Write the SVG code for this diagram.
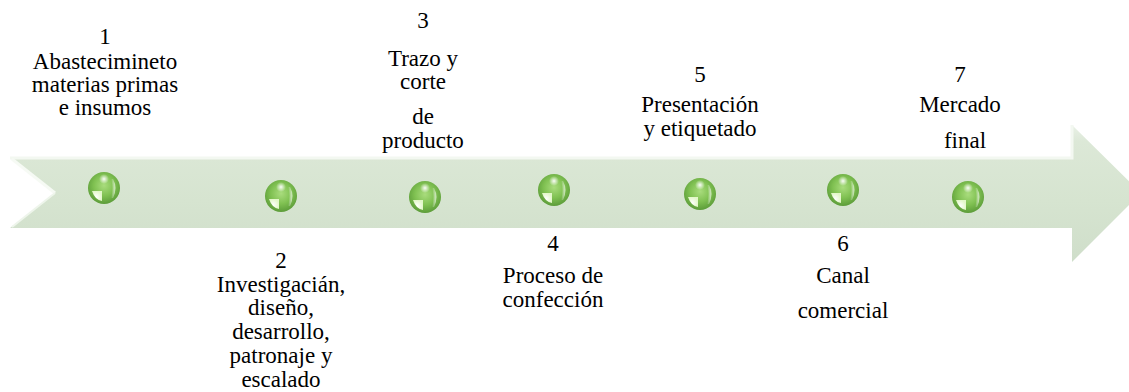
<svg xmlns="http://www.w3.org/2000/svg" width="1129" height="392" viewBox="0 0 1129 392">
  <defs>
    <linearGradient id="arrowFill" x1="0" y1="0" x2="0" y2="1">
      <stop offset="0" stop-color="#e9f1e6"/>
      <stop offset="0.12" stop-color="#dce8d7"/>
      <stop offset="0.55" stop-color="#d6e4d0"/>
      <stop offset="1" stop-color="#cfdeca"/>
    </linearGradient>
    <radialGradient id="ballFill" cx="0.5" cy="0.42" r="0.58">
      <stop offset="0" stop-color="#a9dc7d"/>
      <stop offset="0.55" stop-color="#80c152"/>
      <stop offset="1" stop-color="#5c9c39"/>
    </radialGradient>
    <radialGradient id="topGlow" cx="0.5" cy="0.5" r="0.5">
      <stop offset="0" stop-color="#ffffff" stop-opacity="0.95"/>
      <stop offset="1" stop-color="#ffffff" stop-opacity="0"/>
    </radialGradient>
    <linearGradient id="sideGlow" x1="0" y1="0" x2="1" y2="0">
      <stop offset="0" stop-color="#ffffff" stop-opacity="0"/>
      <stop offset="1" stop-color="#ffffff" stop-opacity="0.7"/>
    </linearGradient>
    <radialGradient id="lowGlow" cx="0.4" cy="0.6" r="0.6">
      <stop offset="0" stop-color="#ffffff"/>
      <stop offset="1" stop-color="#e2f7c8"/>
    </radialGradient>
    <g id="ball">
      <circle r="16" fill="url(#ballFill)"/>
      <ellipse cx="0" cy="-9" rx="5" ry="5" fill="url(#topGlow)"/>
      <path d="M9,-9 Q14,0 9,10 L7,10 Q10,0 7,-9 Z" fill="url(#sideGlow)"/>
      <path d="M-12,3 L-2,3 L-2,13 Q-9,12 -12,3 Z" fill="url(#lowGlow)"/>
    </g>
  </defs>
  <style>
    text { font-family: 'Liberation Serif', 'Times New Roman', 'DejaVu Serif', serif; font-size: 23px; fill: #000000; text-anchor: middle; }
  </style>

  <g id="timeline-arrow">
    <path d="M10,158 L1072,158 L1072,125 L1141,193 L1072,262 L1072,228 L10,228 L55,193 Z" fill="url(#arrowFill)"/>
    <path d="M10,158 L1072,158 L1072,125" fill="none" stroke="#f3f8f1" stroke-width="3"/>
    <path d="M12,159 L55,193" fill="none" stroke="#f6faf4" stroke-width="3"/>
    <path d="M12,227 L55,193" fill="none" stroke="#eef5eb" stroke-width="2"/>
  </g>

  <g id="connectors"></g>

  <g id="node1">
    <use href="#ball" x="104" y="188"/>
    <text x="105" y="44">1</text>
    <text x="105" y="69">Abastecimineto</text>
    <text x="105" y="92">materias primas</text>
    <text x="105" y="115">e insumos</text>
  </g>

  <g id="node2">
    <use href="#ball" x="281" y="196"/>
    <text x="281" y="268">2</text>
    <text x="281" y="292">Investigacián,</text>
    <text x="281" y="315">diseño,</text>
    <text x="281" y="339">desarrollo,</text>
    <text x="281" y="363">patronaje y</text>
    <text x="281" y="387">escalado</text>
  </g>

  <g id="node3">
    <use href="#ball" x="425" y="197"/>
    <text x="423" y="28">3</text>
    <text x="423" y="66">Trazo y</text>
    <text x="423" y="89">corte</text>
    <text x="423" y="124">de</text>
    <text x="423" y="148">producto</text>
  </g>

  <g id="node4">
    <use href="#ball" x="554" y="190"/>
    <text x="553" y="251">4</text>
    <text x="553" y="283">Proceso de</text>
    <text x="553" y="307">confección</text>
  </g>

  <g id="node5">
    <use href="#ball" x="700" y="194"/>
    <text x="700" y="82">5</text>
    <text x="700" y="112">Presentación</text>
    <text x="700" y="136">y etiquetado</text>
  </g>

  <g id="node6">
    <use href="#ball" x="843" y="190"/>
    <text x="843" y="251">6</text>
    <text x="843" y="283">Canal</text>
    <text x="843" y="318">comercial</text>
  </g>

  <g id="node7">
    <use href="#ball" x="968" y="197"/>
    <text x="960" y="82">7</text>
    <text x="960" y="112">Mercado</text>
    <text x="965" y="148">final</text>
  </g>
</svg>
